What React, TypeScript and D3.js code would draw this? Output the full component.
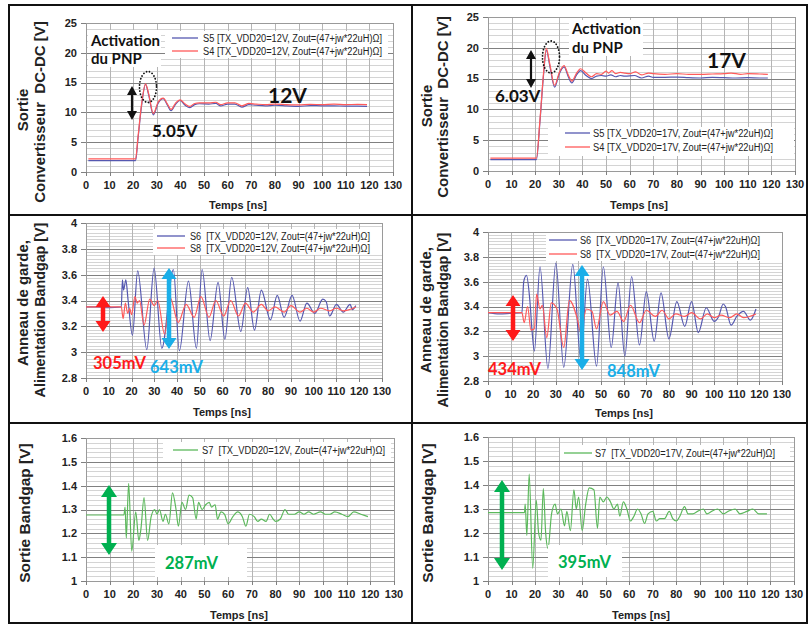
import React from 'react';
import * as d3 from 'd3';

type Pt = [number, number];

// ---------- DATA ----------
const TIME_TICKS = d3.range(0, 131, 10);

// Top-left: DC-DC output, 12V
const P1_S5: Pt[] = [[1,1.9],[21,1.9],[22,5.5],[23.5,11],[25.2,14.7],[26.5,13],[28.5,9.6],[30.5,11.5],[32.7,12.3],[34.5,11.2],[36,10.3],[38,11.4],[39.8,12.0],[42,11.2],[44,10.8],[46,11.3],[48,11.45],[52,11.4],[55,11.5],[57,11.1],[60,11.4],[63,11.4],[66,10.9],[69,11.3],[72,11.2],[76,11.1],[80,11.2],[85,11.1],[90,11.0],[95,11.15],[100,11.1],[105,11.1],[110,11.05],[115,11.05],[119,11.0]];
const P1_S4: Pt[] = [[1,2.2],[21,2.2],[22,5.8],[23.5,11.3],[25.2,14.8],[26.5,13.2],[28.5,9.8],[30.5,11.7],[32.7,12.4],[34.5,11.4],[36,10.5],[38,11.6],[39.8,12.1],[42,11.4],[44,11.0],[46,11.5],[48,11.6],[52,11.6],[55,11.7],[57,11.3],[60,11.6],[63,11.6],[66,11.1],[69,11.5],[72,11.4],[76,11.3],[80,11.4],[85,11.3],[90,11.25],[95,11.35],[100,11.3],[105,11.4],[110,11.3],[115,11.35],[119,11.3]];

// Top-right: DC-DC output, 17V
const P2_S5: Pt[] = [[1,1.85],[20.5,1.85],[22,8],[23.5,15.5],[24.7,19.6],[26.2,17],[28.2,13.6],[30.2,15.8],[32.2,16.9],[34,15.3],[35.5,14.3],[37.5,15.6],[39.2,16.3],[41.5,15.5],[43.8,15.0],[46,15.4],[48,15.5],[50,15.4],[52,15.6],[54,15.3],[56,15.5],[58,15.4],[62,15.5],[65,15.1],[68,15.4],[70,15.2],[75,15.2],[80,15.25],[85,15.15],[90,15.1],[95,15.2],[100,15.15],[105,15.1],[110,15.15],[115,15.1],[118.5,15.1]];
const P2_S4: Pt[] = [[1,2.1],[20.5,2.1],[22,8.3],[23.5,15.8],[24.7,19.9],[26.2,17.3],[28.2,13.9],[30.2,16],[32.2,17.1],[34,15.6],[35.5,14.6],[37.5,15.9],[39.2,16.6],[41.5,15.9],[43.8,15.3],[46,15.8],[48,15.7],[50,16.2],[51,15.9],[52.5,16.3],[54,15.8],[56,16.0],[58,15.9],[60,15.8],[62.5,16.1],[65,15.6],[68,15.9],[70,15.8],[75,15.7],[80,15.8],[85,15.7],[90,15.7],[95,15.75],[100,15.8],[103,15.9],[107,15.7],[110,15.8],[115,15.75],[118.5,15.7]];

// Middle-left: guard ring / bandgap supply, 12V
const P3_S6: Pt[] = [[0,3.35],[5,3.35],[10,3.345],[15.5,3.35],[16,3.56],[16.5,3.48],[17.5,3.56],[18.5,3.40],[20.4,3.13],[22.7,3.63],[26.7,3.02],[29.9,3.65],[33.3,3.03],[38.4,3.64],[41,3.01],[45,3.55],[48.5,3.03],[51,3.64],[54.5,3.09],[58,3.54],[61,3.10],[64,3.58],[68,3.16],[71,3.50],[74,3.17],[77,3.48],[81,3.25],[84,3.44],[87,3.27],[90.5,3.44],[94,3.24],[97,3.38],[100.5,3.30],[104,3.41],[105.5,3.39],[107,3.28],[110,3.37],[113,3.31],[116,3.37],[117,3.33],[118.5,3.36]];
const P3_S8: Pt[] = [[0,3.35],[15.5,3.35],[16.3,3.26],[17.3,3.38],[18.3,3.30],[19.2,3.34],[20,3.29],[21.5,3.43],[22.5,3.38],[23.5,3.40],[25.5,3.21],[28,3.41],[30,3.36],[31.5,3.40],[34.5,3.14],[37,3.42],[40.5,3.23],[44,3.37],[47.5,3.27],[50.5,3.43],[54,3.27],[57,3.40],[60.5,3.28],[63.5,3.40],[67,3.28],[70,3.38],[73.5,3.31],[77,3.37],[80,3.32],[83,3.35],[87,3.31],[90,3.36],[94,3.31],[97,3.34],[100,3.31],[103,3.34],[107,3.32],[110,3.34],[113,3.32],[118.5,3.35]];

// Middle-right: guard ring / bandgap supply, 17V
const P4_S6: Pt[] = [[0,3.35],[5,3.34],[10,3.345],[15,3.35],[15.8,3.60],[17,3.65],[18.5,3.45],[19.5,3.2],[20.5,3.04],[23,3.72],[26.5,2.90],[30,3.75],[33.5,2.91],[37.5,3.74],[41,2.98],[44,3.62],[48,2.92],[51,3.72],[54.5,3.07],[57.5,3.59],[60.5,3.0],[63.5,3.64],[67,3.09],[70,3.52],[73.5,3.12],[76.5,3.51],[80,3.14],[83.5,3.44],[87,3.24],[90,3.44],[93,3.19],[96.5,3.39],[100,3.28],[102,3.32],[104,3.42],[105,3.40],[107.5,3.25],[110,3.32],[113,3.36],[116,3.29],[118.5,3.38]];
const P4_S8: Pt[] = [[0,3.35],[15,3.35],[16,3.27],[17.5,3.40],[19,3.21],[20.5,3.22],[21.5,3.50],[23,3.38],[24,3.41],[26,3.15],[28,3.43],[30.5,3.38],[33.5,3.07],[36,3.45],[39.5,3.30],[41,3.19],[43.5,3.38],[46,3.36],[48,3.22],[51,3.44],[54,3.33],[57,3.36],[60,3.28],[63,3.41],[67,3.27],[70,3.37],[74,3.32],[77,3.37],[80,3.30],[83,3.34],[87,3.32],[90,3.35],[94,3.30],[97,3.34],[100,3.31],[103,3.33],[107,3.31],[110,3.34],[113,3.31],[118.5,3.34]];

// Bottom-left: bandgap output, 12V
const P5_S7: Pt[] = [[0,1.277],[16,1.277],[16.5,1.31],[17,1.18],[18,1.41],[19.3,1.125],[21,1.29],[22.3,1.17],[23.2,1.22],[24.5,1.35],[26,1.17],[27.5,1.27],[29,1.30],[30,1.28],[31,1.30],[32.5,1.25],[33.5,1.28],[35,1.24],[36.5,1.37],[38,1.30],[39,1.23],[40.5,1.33],[42,1.30],[43.5,1.36],[45,1.35],[46.5,1.26],[47.5,1.33],[49,1.30],[50.5,1.32],[52,1.33],[53,1.31],[54.5,1.32],[55.5,1.26],[57,1.29],[58.5,1.28],[60,1.24],[62,1.27],[64,1.29],[66,1.27],[67.5,1.23],[69,1.28],[71,1.27],[72.5,1.25],[74,1.26],[76,1.25],[77.5,1.28],[79,1.26],[80,1.25],[82,1.26],[84,1.30],[85.5,1.28],[88,1.28],[90,1.29],[92,1.28],[94,1.29],[96,1.28],[99,1.29],[101,1.28],[103,1.28],[105,1.29],[108,1.28],[110.5,1.27],[113,1.29],[116,1.28],[119,1.27]];

// Bottom-right: bandgap output, 17V
const P6_S7: Pt[] = [[0,1.285],[15.5,1.285],[15.8,1.32],[16.5,1.19],[17.5,1.445],[19,1.053],[20.5,1.337],[21.5,1.20],[22.5,1.17],[23.5,1.385],[24.5,1.20],[25.5,1.136],[27,1.28],[28.5,1.32],[29.5,1.28],[31,1.30],[32.5,1.23],[33.5,1.29],[35,1.21],[36.5,1.38],[37.5,1.30],[38.5,1.35],[40,1.21],[41.5,1.32],[43,1.388],[45,1.38],[46.5,1.22],[47.5,1.35],[49,1.33],[50.5,1.35],[52,1.33],[53.5,1.30],[55,1.32],[56,1.27],[57.5,1.33],[59,1.30],[60.5,1.25],[62,1.27],[63.5,1.30],[65,1.28],[66.5,1.24],[68,1.28],[70,1.29],[71.5,1.25],[73,1.26],[75,1.26],[77,1.29],[78.5,1.26],[80,1.25],[81.5,1.27],[83.5,1.31],[85,1.28],[87,1.28],[89,1.29],[91.5,1.30],[93,1.28],[95,1.29],[97.5,1.30],[100,1.28],[102,1.29],[105,1.30],[107,1.28],[110,1.29],[112.5,1.30],[115,1.28],[118.5,1.28]];

const LEG_P1 = ['S5 [TX_VDD20=12V, Zout=(47+jw*22uH)Ω]', 'S4 [TX_VDD20=12V, Zout=(47+jw*22uH)Ω]'];
const LEG_P2 = ['S5 [TX_VDD20=17V, Zout=(47+jw*22uH)Ω]', 'S4 [TX_VDD20=17V, Zout=(47+jw*22uH)Ω]'];
const LEG_P3 = ['S6  [TX_VDD20=12V, Zout=(47+jw*22uH)Ω]', 'S8  [TX_VDD20=12V, Zout=(47+jw*22uH)Ω]'];
const LEG_P4 = ['S6  [TX_VDD20=17V, Zout=(47+jw*22uH)Ω]', 'S8  [TX_VDD20=17V, Zout=(47+jw*22uH)Ω]'];
const LEG_P5 = ['S7  [TX_VDD20=12V, Zout=(47+jw*22uH)Ω]'];
const LEG_P6 = ['S7  [TX_VDD20=17V, Zout=(47+jw*22uH)Ω]'];

// ---------- STYLE ----------
const BLUE = '#5558b0';
const RED = '#ff5a5a';
const GREEN = '#5cb85c';
const AX_FONT = '"Liberation Sans", Arial, sans-serif';
const NARROW = '"Liberation Sans Narrow", "Arial Narrow", "Liberation Sans", Arial, sans-serif';
const ANN_FONT = 'Lato, "Open Sans", sans-serif';

type Legend = { x: number; y: number; w: number; h: number; lx1: number; lx2: number; tx: number; tw: number; rows: number[] };

type Cfg = {
  l: number; r: number; t: number; b: number;
  yDom: [number, number]; major: number; minor: number;
  series: { data: Pt[]; color: string }[];
  labels: string[]; legend: Legend;
  yLabels: { text: string; x: number; y: number; size: number }[];
  xTitle: [number, number];
  under?: React.ReactNode; over?: React.ReactNode;
};

function fmt(v: number) { return String(+v.toFixed(2)); }

function Panel({ c }: { c: Cfg }) {
  const x = d3.scaleLinear().domain([0, 130]).range([c.l, c.r]);
  const y = d3.scaleLinear().domain(c.yDom).range([c.b, c.t]);
  const span = c.yDom[1] - c.yDom[0];
  const majors = d3.range(Math.round(span / c.major) + 1).map(i => c.yDom[0] + i * c.major);
  const minors = d3.range(Math.round(span / c.minor) + 1).map(i => c.yDom[0] + i * c.minor);
  const line = d3.line<Pt>().x(d => x(d[0])).y(d => y(d[1])).curve(d3.curveMonotoneX);
  const cr = (v: number) => Math.round(v) + 0.5;
  return (
    <g>
      <rect x={c.l} y={c.t} width={c.r - c.l} height={c.b - c.t} fill="#fff" />
      {minors.map((v, i) => <line key={'mn' + i} x1={c.l} x2={c.r} y1={cr(y(v))} y2={cr(y(v))} stroke="#d4d4d4" strokeWidth={1} />)}
      {TIME_TICKS.map(t => <line key={'vg' + t} x1={cr(x(t))} x2={cr(x(t))} y1={c.t} y2={c.b} stroke="#b5b5b5" strokeWidth={1} />)}
      {c.under}
      {majors.map((v, i) => <line key={'mj' + i} x1={c.l} x2={c.r} y1={cr(y(v))} y2={cr(y(v))} stroke="#808080" strokeWidth={1} />)}
      <rect x={cr(c.l)} y={cr(c.t)} width={Math.round(c.r - c.l)} height={Math.round(c.b - c.t)} fill="none" stroke="#9a9a9a" strokeWidth={1} />
      {TIME_TICKS.map(t => (
        <g key={'xt' + t}>
          <line x1={cr(x(t))} x2={cr(x(t))} y1={c.b} y2={c.b + 4} stroke="#808080" />
          <text x={x(t)} y={c.b + 13} dy="0.35em" textAnchor="middle" fontFamily={AX_FONT} fontWeight="bold" fontSize={11} fill="#222">{t}</text>
        </g>
      ))}
      {majors.map((v, i) => (
        <g key={'yt' + i}>
          <line x1={c.l - 5} x2={c.l} y1={cr(y(v))} y2={cr(y(v))} stroke="#808080" />
          <text x={c.l - 9} y={y(v)} dy="0.35em" textAnchor="end" fontFamily={AX_FONT} fontWeight="bold" fontSize={11} fill="#222">{fmt(v)}</text>
        </g>
      ))}
      {c.series.map((s, i) => <path key={'s' + i} d={line(s.data) || ''} fill="none" stroke={s.color} strokeWidth={1.2} strokeLinejoin="round" />)}
      <rect x={c.legend.x} y={c.legend.y} width={c.legend.w} height={c.legend.h} fill="#fff" />
      {c.labels.map((lab, i) => (
        <g key={'lg' + i}>
          <line x1={c.legend.lx1} x2={c.legend.lx2} y1={c.legend.rows[i]} y2={c.legend.rows[i]} stroke={c.series[i].color} strokeWidth={1.3} />
          <text x={c.legend.tx} y={c.legend.rows[i]} dy="0.35em" fontFamily={NARROW} fontSize={10} fill="#222" textLength={c.legend.tw} lengthAdjust="spacingAndGlyphs" style={{ whiteSpace: 'pre' }}>{lab}</text>
        </g>
      ))}
      {c.yLabels.map((yl, i) => (
        <text key={'yl' + i} transform={`translate(${yl.x},${yl.y}) rotate(-90)`} dy="0.35em" textAnchor="middle" fontFamily={AX_FONT} fontWeight="bold" fontSize={yl.size} fill="#222" style={{ whiteSpace: 'pre' }}>{yl.text}</text>
      ))}
      <text x={c.xTitle[0]} y={c.xTitle[1]} dy="0.35em" textAnchor="middle" fontFamily={AX_FONT} fontWeight="bold" fontSize={11} fill="#222">Temps [ns]</text>
      {c.over}
    </g>
  );
}

function dblArrow(x: number, y1: number, y2: number, sw: number, hw: number, hh: number, color: string) {
  const d = `M${x - sw / 2},${y1 + hh} L${x - hw / 2},${y1 + hh} L${x},${y1} L${x + hw / 2},${y1 + hh} L${x + sw / 2},${y1 + hh} L${x + sw / 2},${y2 - hh} L${x + hw / 2},${y2 - hh} L${x},${y2} L${x - hw / 2},${y2 - hh} L${x - sw / 2},${y2 - hh} Z`;
  return <path d={d} fill={color} />;
}

function ann(text: string, x: number, y: number, size: number, color: string) {
  return <text x={x} y={y} fontFamily={ANN_FONT} fontWeight="bold" fontSize={size} fill={color}>{text}</text>;
}

const dotted = (cx: number, cy: number, rx: number, ry: number) => (
  <ellipse cx={cx} cy={cy} rx={rx} ry={ry} fill="none" stroke="#111" strokeWidth={1.8} strokeDasharray="0.1 3" strokeLinecap="round" />
);

export default function App() {
  const panels: Cfg[] = [
    {
      l: 86, r: 393, t: 23, b: 172, yDom: [0, 25], major: 5, minor: 1,
      series: [{ data: P1_S5, color: BLUE }, { data: P1_S4, color: RED }],
      labels: LEG_P1,
      legend: { x: 165, y: 31, w: 223, h: 27, lx1: 172, lx2: 198, tx: 203, tw: 179, rows: [38, 51] },
      yLabels: [{ text: 'Sortie', x: 23, y: 110, size: 15 }, { text: 'Convertisseur  DC-DC [V]', x: 40, y: 112, size: 15 }],
      xTitle: [238, 205],
      under: <rect x={88} y={30} width={73} height={37} fill="#fff" />,
      over: (
        <g>
          {ann('Activation', 91, 46, 15, '#111')}
          {ann('du PNP', 91, 64, 15, '#111')}
          {dotted(148, 87, 8.5, 15.5)}
          {dblArrow(132, 86, 120, 2.2, 10, 9, '#111')}
          {ann('5.05V', 152, 137, 17, '#111')}
          {ann('12V', 268, 103, 21, '#111')}
        </g>
      ),
    },
    {
      l: 488, r: 795, t: 17, b: 171, yDom: [0, 25], major: 5, minor: 1,
      series: [{ data: P2_S5, color: BLUE }, { data: P2_S4, color: RED }],
      labels: LEG_P2,
      legend: { x: 548, y: 127, w: 246, h: 29, lx1: 565, lx2: 590, tx: 593, tw: 180, rows: [133, 147] },
      yLabels: [{ text: 'Sortie', x: 427, y: 106, size: 15 }, { text: 'Convertisseur  DC-DC [V]', x: 443, y: 107, size: 15 }],
      xTitle: [639, 205],
      over: (
        <g>
          <rect x={569} y={20} width={74} height={36} fill="#fff" />
          {ann('Activation', 572, 34, 15, '#111')}
          {ann('du PNP', 572, 53, 15, '#111')}
          {dotted(551, 57, 8.5, 16)}
          {dblArrow(531, 50, 88, 2.2, 10, 9, '#111')}
          {ann('6.03V', 495, 102, 17, '#111')}
          {ann('17V', 707, 68, 21, '#111')}
        </g>
      ),
    },
    {
      l: 86, r: 382, t: 223, b: 378, yDom: [2.8, 4], major: 0.2, minor: 0.025,
      series: [{ data: P3_S6, color: BLUE }, { data: P3_S8, color: RED }],
      labels: LEG_P3,
      legend: { x: 153, y: 229, w: 229, h: 26, lx1: 157, lx2: 185, tx: 190, tw: 180, rows: [236, 248] },
      yLabels: [{ text: 'Anneau de garde,', x: 23, y: 303, size: 15 }, { text: 'Alimentation Bandgap [V]', x: 40, y: 310, size: 14.3 }],
      xTitle: [222, 412],
      over: (
        <g>
          {dblArrow(103, 296, 332, 4.5, 15, 11, '#ff1a1a')}
          {dblArrow(169, 268, 349, 4.5, 15, 11, '#1aaee8')}
          {ann('305mV', 93, 369, 16.5, '#ff1a1a')}
          {ann('643mV', 150, 373, 16.5, '#1aaee8')}
        </g>
      ),
    },
    {
      l: 488, r: 782, t: 232, b: 381, yDom: [2.8, 4], major: 0.2, minor: 0.025,
      series: [{ data: P4_S6, color: BLUE }, { data: P4_S8, color: RED }],
      labels: LEG_P4,
      legend: { x: 546, y: 233, w: 236, h: 28, lx1: 549, lx2: 577, tx: 580, tw: 180, rows: [240, 254] },
      yLabels: [{ text: 'Anneau de garde,', x: 426, y: 310, size: 15 }, { text: 'Alimentation Bandgap [V]', x: 443, y: 320, size: 14.3 }],
      xTitle: [624, 413],
      over: (
        <g>
          {dblArrow(513, 295, 341, 4.5, 15, 11, '#ff1a1a')}
          {dblArrow(582, 265, 370, 4.5, 15, 11, '#1aaee8')}
          {ann('434mV', 488, 375, 16.5, '#ff1a1a')}
          {ann('848mV', 607, 377, 16.5, '#1aaee8')}
        </g>
      ),
    },
    {
      l: 86, r: 394, t: 438, b: 581, yDom: [1, 1.6], major: 0.1, minor: 0.02,
      series: [{ data: P5_S7, color: GREEN }],
      labels: LEG_P5,
      legend: { x: 163, y: 442, w: 228, h: 17, lx1: 173, lx2: 198, tx: 202, tw: 183, rows: [450] },
      yLabels: [{ text: 'Sortie Bandgap [V]', x: 25, y: 513, size: 15.5 }],
      xTitle: [239, 615],
      over: (
        <g>
          <rect x={155} y={545} width={92} height={32} fill="#fff" />
          {dblArrow(109, 485, 555, 4.5, 16, 12, '#00b050')}
          {ann('287mV', 165, 569, 16.5, '#00b050')}
        </g>
      ),
    },
    {
      l: 488, r: 794, t: 437, b: 581, yDom: [1, 1.6], major: 0.1, minor: 0.02,
      series: [{ data: P6_S7, color: GREEN }],
      labels: LEG_P6,
      legend: { x: 560, y: 445, w: 230, h: 16, lx1: 564, lx2: 592, tx: 595, tw: 180, rows: [453] },
      yLabels: [{ text: 'Sortie Bandgap [V]', x: 428, y: 513, size: 15.5 }],
      xTitle: [641, 615],
      over: (
        <g>
          <rect x={548} y={545} width={74} height={32} fill="#fff" />
          {dblArrow(502, 480, 570, 4.5, 16, 12, '#00b050')}
          {ann('395mV', 558, 568, 16.5, '#00b050')}
        </g>
      ),
    },
  ];

  return (
    <svg width={809} height={626} style={{ position: 'absolute', left: 0, top: 0, background: '#fff' }}>
      <rect x={0} y={0} width={809} height={626} fill="#fff" />
      {panels.map((c, i) => <Panel key={i} c={c} />)}
      <rect x={9} y={5} width={798} height={618} fill="none" stroke="#111" strokeWidth={2} />
      <line x1={412} x2={412} y1={5} y2={623} stroke="#111" strokeWidth={2} />
      <line x1={9} x2={807} y1={215} y2={215} stroke="#111" strokeWidth={2} />
      <line x1={9} x2={807} y1={423} y2={423} stroke="#111" strokeWidth={2} />
    </svg>
  );
}
